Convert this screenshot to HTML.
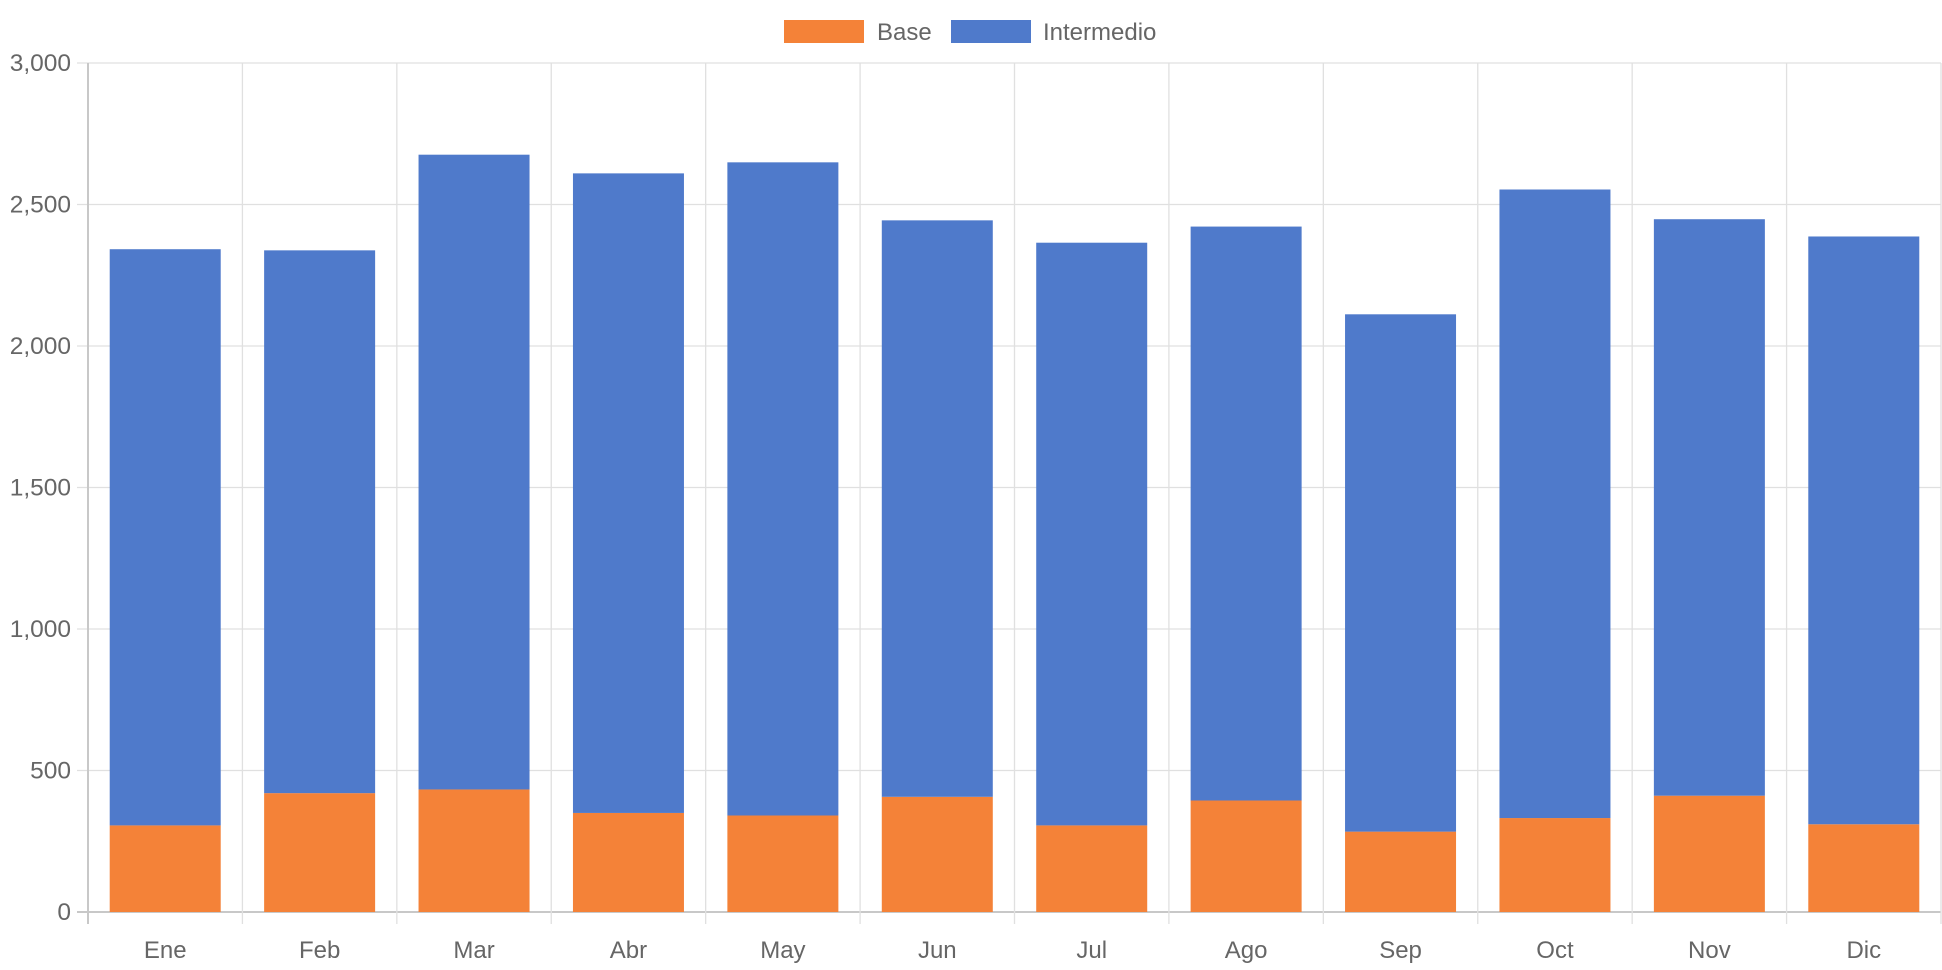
<!DOCTYPE html>
<html><head><meta charset="utf-8"><style>
html,body{margin:0;padding:0;background:#fff;width:1942px;height:970px;overflow:hidden}
text{font-family:"Liberation Sans",Arial,sans-serif;fill:#666}
</style></head><body>
<svg id="chart" width="1942" height="970" xmlns="http://www.w3.org/2000/svg"></svg>
<script>
const categories=["Ene","Feb","Mar","Abr","May","Jun","Jul","Ago","Sep","Oct","Nov","Dic"];
const baseValues=[306,420,433,350,341,407,306,394,284,332,411,310];
const intermedioValues=[2036,1918,2243,2260,2308,2037,2059,2028,1828,2221,2037,2077];
const yTicks=[0,500,1000,1500,2000,2500,3000];
const yTickLabels=["0","500","1,000","1,500","2,000","2,500","3,000"];
const NS="http://www.w3.org/2000/svg";
const svg=document.getElementById('chart');
const L=88,R=1941,T=63,B=912,yMax=3000;
const bw=(R-L)/categories.length, barW=111;
function y(v){return B-(v/yMax)*(B-T);}
function x(i){return L+bw*i+bw/2;}
function mk(tag,attrs,parent){const e=document.createElementNS(NS,tag);for(const k in attrs)e.setAttribute(k,attrs[k]);(parent||svg).appendChild(e);return e;}
yTicks.forEach((t,i)=>{
  const g=mk('line',{x1:L-11,x2:R,y1:y(t),y2:y(t),stroke:i===0?'#c8c8c8':'#e0e0e0','stroke-width':i===0?2:1.3});
  
  
  const tx=mk('text',{x:L-17,y:y(t)+8,'text-anchor':'end','font-size':24.5});
  tx.textContent=yTickLabels[i];
  
  
});
for(let i=0;i<=categories.length;i++){
  const xx=L+bw*i;
  const g=mk('line',{x1:xx,x2:xx,y1:T,y2:B+12,stroke:i===0?'#c8c8c8':'#e0e0e0','stroke-width':i===0?2:1.3});
  
  
}
categories.forEach((c,i)=>{
  const b=mk('rect',{x:x(i)-barW/2,y:y(baseValues[i]),width:barW,height:B-y(baseValues[i]),fill:'#f48238'});
  
  
  const top=baseValues[i]+intermedioValues[i];
  const m=mk('rect',{x:x(i)-barW/2,y:y(top),width:barW,height:y(baseValues[i])-y(top),fill:'#4f7acb'});
  
  
  const tx=mk('text',{x:x(i),y:958,'text-anchor':'middle','font-size':24});
  tx.textContent=c;
  
  
});
const lg=mk('g',{});


const r1=mk('rect',{x:784,y:20,width:80,height:23,fill:'#f48238'},lg);


const t1=mk('text',{x:877,y:40,'font-size':24},lg);t1.textContent='Base';


const r2=mk('rect',{x:951,y:20,width:80,height:23,fill:'#4f7acb'},lg);


const t2=mk('text',{x:1043,y:40,'font-size':24},lg);t2.textContent='Intermedio';


</script>
</body></html>
